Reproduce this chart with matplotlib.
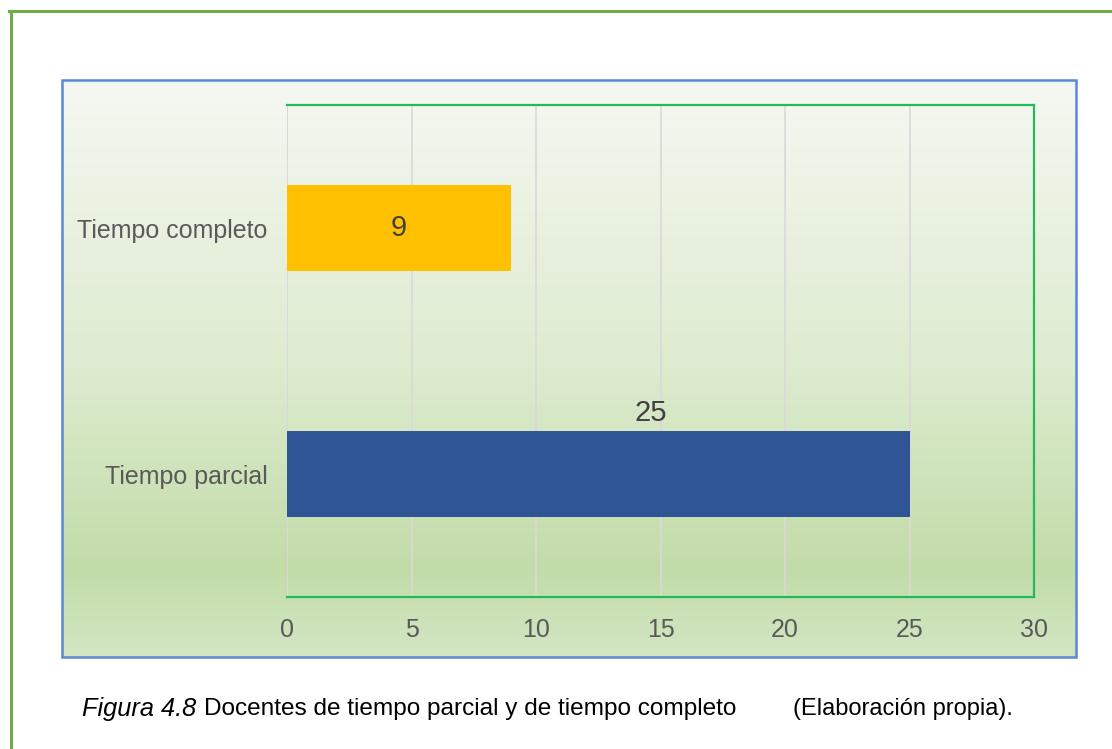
import matplotlib.pyplot as plt
import numpy as np
from matplotlib.colors import LinearSegmentedColormap
from matplotlib.patches import Rectangle
from matplotlib.lines import Line2D

categorias = ["Tiempo parcial", "Tiempo completo"]
valores = [25, 9]
colores = ["#2F5597", "#FFC000"]
ticks_x = [0, 5, 10, 15, 20, 25, 30]

plt.rcParams['font.family'] = ['Liberation Sans', 'DejaVu Sans']

fig = plt.figure(figsize=(11.12, 7.49), dpi=100)

# marco verde exterior (solo arriba e izquierda)
fig.add_artist(Line2D([0.0095, 0.0095], [0.9853, 0.0], color="#70AD47", lw=2.2, transform=fig.transFigure))
fig.add_artist(Line2D([0.0085, 1.0], [0.9853, 0.9853], color="#70AD47", lw=2.2, transform=fig.transFigure))

# fondo con degradado del área del gráfico
bg = fig.add_axes([0.0558, 0.1228, 0.9118, 0.7704], zorder=0)
cmap = LinearSegmentedColormap.from_list(
    "fondo", [(0.0, "#F5F8F2"), (0.5, "#DDEBCF"), (0.85, "#C2DCA8"), (1.0, "#D3E6C4")])
grad = np.linspace(0, 1, 256).reshape(-1, 1)
bg.imshow(grad, aspect="auto", cmap=cmap, extent=[0, 1, 0, 1], origin="upper")
bg.set_xlim(0, 1)
bg.set_ylim(0, 1)
bg.axis("off")
bg.add_patch(Rectangle((0, 0), 1, 1, fill=False, edgecolor="#5B87D6", lw=1.8, transform=bg.transAxes, clip_on=False))

ax = fig.add_axes([0.2581, 0.2029, 0.6718, 0.6569], zorder=1)
ax.patch.set_alpha(0)

y = np.arange(len(categorias))
ax.barh(y, valores, height=0.35, color=colores, zorder=3)

ax.set_xlim(0, 30)
ax.set_ylim(-0.5, 1.5)
ax.set_xticks(ticks_x)
ax.set_yticks(y)
ax.set_yticklabels(categorias)
ax.tick_params(axis="both", length=0, labelsize=18, labelcolor="#595959")
ax.tick_params(axis="x", pad=15)
ax.tick_params(axis="y", pad=14)
ax.grid(axis="x", color="#D9D9D9", lw=1.2, zorder=1)

for s in ["top", "right", "bottom"]:
    ax.spines[s].set_color("#22BB5B")
    ax.spines[s].set_linewidth(1.6)
ax.spines["left"].set_visible(False)
ax.axvline(0, color="#D9D9D9", lw=1.2, zorder=1)

# etiquetas de datos
ax.text(valores[1] / 2, 1, str(valores[1]), ha="center", va="center", fontsize=21, color="#404040", zorder=4)
ax.text(14.6, 0.25, str(valores[0]), ha="center", va="center", fontsize=21, color="#404040", zorder=4)

# pie de figura
fig.text(82 / 1112, 1 - 709 / 749, "Figura 4.8", style="italic", fontsize=18.3, color="#000000", va="center")
fig.text(204 / 1112, 1 - 709 / 749, "Docentes de tiempo parcial y de tiempo completo", fontsize=17.6,
         color="#000000", va="center")
fig.text(793 / 1112, 1 - 709 / 749, "(Elaboración propia).", fontsize=17, color="#000000", va="center")

fig.savefig("out.png", dpi=100)
